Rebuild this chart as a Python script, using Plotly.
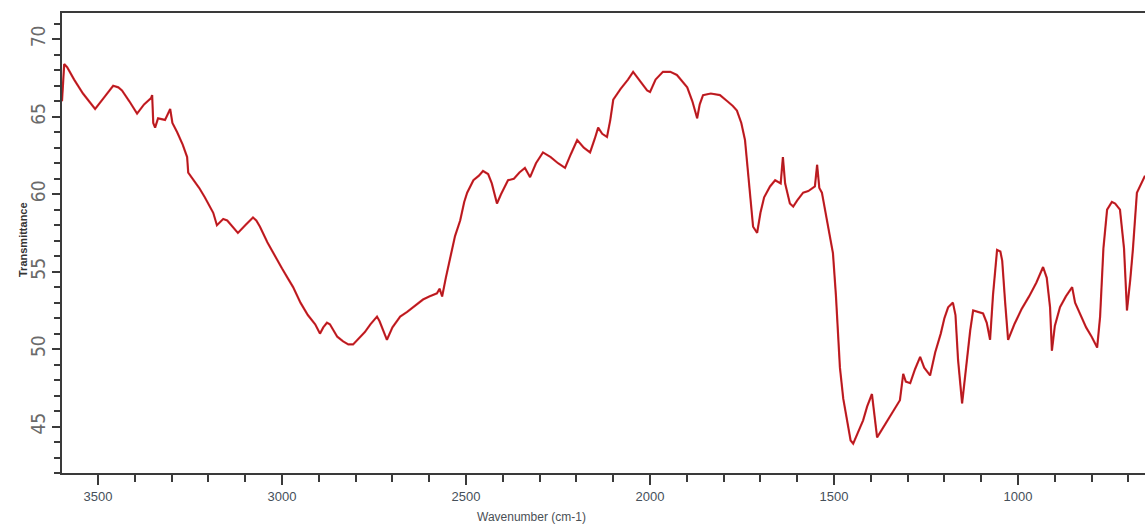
import plotly.graph_objects as go

# FT-IR spectrum: wavenumber (cm-1) vs transmittance (%)
wavenumber = [
    3598, 3592, 3584, 3565, 3541, 3520, 3508, 3485, 3459, 3445, 3435, 3415, 3394, 3375,
    3356, 3353, 3350, 3345, 3337, 3318, 3304, 3298, 3285, 3270, 3258, 3255, 3240, 3225,
    3210, 3195, 3187, 3177, 3160, 3149, 3135, 3120, 3100, 3079, 3070, 3060, 3040, 3020,
    3000, 2985, 2970, 2950, 2930, 2910, 2897, 2888, 2878, 2870, 2861, 2850, 2834, 2820,
    2807, 2790, 2775, 2760, 2742, 2735, 2728, 2720, 2715, 2700, 2679, 2660, 2640, 2617,
    2600, 2579, 2572, 2565, 2555, 2543, 2530, 2516, 2505, 2497, 2480, 2465, 2454, 2440,
    2430, 2416, 2405, 2386, 2370, 2355, 2340, 2326, 2310, 2291, 2270, 2250, 2231, 2215,
    2198, 2180, 2163, 2150, 2141, 2130, 2117, 2108, 2100, 2080, 2060, 2046, 2030, 2015,
    2008, 2000, 1985, 1965, 1945, 1927, 1912, 1899, 1885, 1872, 1865, 1856, 1835, 1810,
    1790, 1775, 1764, 1752, 1742, 1732, 1720, 1709, 1700, 1690, 1674, 1660, 1645, 1639,
    1633, 1620, 1611, 1600, 1584, 1570, 1552, 1546, 1540, 1533, 1520, 1511, 1503, 1495,
    1484, 1475, 1465, 1455, 1448, 1440, 1430, 1421, 1410, 1397, 1390, 1383, 1370, 1355,
    1340, 1321, 1312, 1305, 1293, 1280, 1266, 1255, 1239, 1225, 1210, 1200, 1190, 1177,
    1170, 1163, 1152, 1145, 1139, 1130, 1122, 1110, 1095, 1085, 1076, 1068, 1057, 1048,
    1043, 1035, 1027, 1010, 990, 970, 950, 932, 922, 913, 908, 900, 886, 870,
    853, 845, 830, 815, 800, 785, 777, 768, 758, 745, 736, 723, 712, 704,
    695, 688, 677, 665, 655,
]
transmittance = [
    66.0, 68.4, 68.2, 67.4, 66.5, 65.9, 65.5, 66.2, 67.0, 66.9, 66.7, 66.0, 65.2, 65.8,
    66.2, 66.4, 64.6, 64.3, 64.9, 64.8, 65.5, 64.6, 64.0, 63.2, 62.4, 61.4, 60.9, 60.4,
    59.8, 59.2, 58.8, 58.0, 58.4, 58.3, 57.9, 57.5, 58.0, 58.5, 58.3, 57.9, 56.9, 56.0,
    55.2, 54.6, 54.0, 53.0, 52.2, 51.6, 51.0, 51.4, 51.7, 51.6, 51.2, 50.8, 50.5, 50.3,
    50.3, 50.7, 51.1, 51.6, 52.1, 51.8, 51.4, 50.9, 50.6, 51.4, 52.1, 52.4, 52.8, 53.2,
    53.4, 53.6, 53.9, 53.4, 54.6, 55.9, 57.3, 58.3, 59.5, 60.1, 60.9, 61.2, 61.5, 61.3,
    60.7, 59.4, 60.0, 60.9, 61.0, 61.4, 61.7, 61.1, 62.0, 62.7, 62.4, 62.0, 61.7, 62.6,
    63.5, 63.0, 62.7, 63.6, 64.3, 63.9, 63.7, 64.8, 66.1, 66.8, 67.4, 67.9, 67.4, 66.9,
    66.7, 66.6, 67.4, 67.9, 67.9, 67.7, 67.3, 66.9, 66.0, 64.9, 65.8, 66.4, 66.5, 66.4,
    66.0, 65.7, 65.4, 64.6, 63.5, 61.0, 57.9, 57.5, 58.8, 59.8, 60.5, 60.9, 60.7, 62.4,
    60.7, 59.4, 59.2, 59.6, 60.1, 60.2, 60.5, 61.9, 60.4, 60.1, 58.5, 57.2, 56.2, 53.5,
    48.8, 46.8, 45.4, 44.1, 43.9, 44.4, 44.9, 45.4, 46.3, 47.1, 45.8, 44.3, 44.8, 45.4,
    46.0, 46.7, 48.4, 47.9, 47.8, 48.7, 49.5, 48.8, 48.3, 49.8, 51.0, 52.0, 52.7, 53.0,
    52.2, 49.3, 46.5, 48.0, 49.5, 51.2, 52.5, 52.4, 52.3, 51.7, 50.6, 53.5, 56.4, 56.3,
    55.7, 53.0, 50.6, 51.6, 52.6, 53.4, 54.3, 55.3, 54.6, 52.7, 49.9, 51.5, 52.7, 53.4,
    54.0, 53.0, 52.2, 51.4, 50.8, 50.1, 52.1, 56.5, 59.0, 59.5, 59.4, 59.0, 56.5, 52.5,
    54.5, 56.4, 60.1, 60.7, 61.2,
]

y_tick_values = [45, 50, 55, 60, 65, 70]
x_tick_values = [3500, 3000, 2500, 2000, 1500, 1000]

W, H = 1145, 527
M_L, M_R, M_T, M_B = 62, 0, 13, 54
plot_w = W - M_L - M_R
plot_h = H - M_T - M_B

fig = go.Figure()
# red halo with a darker core, as the spectrometer trace is printed
fig.add_trace(go.Scatter(x=wavenumber, y=transmittance, mode="lines",
                         line=dict(color="#d8262c", width=2.2),
                         hoverinfo="skip", showlegend=False))
fig.add_trace(go.Scatter(x=wavenumber, y=transmittance, mode="lines",
                         line=dict(color="#8e1518", width=0.9),
                         opacity=0.75, showlegend=False))

axis_col = "#3a3a3a"
fig.update_layout(
    width=W, height=H,
    margin=dict(l=M_L, r=M_R, t=M_T, b=M_B, autoexpand=False),
    paper_bgcolor="white", plot_bgcolor="white",
    xaxis=dict(
        range=[3598, 655], autorange=False,
        tickvals=x_tick_values, ticktext=[str(v) for v in x_tick_values],
        ticks="outside", ticklen=10, tickwidth=1.5, tickcolor=axis_col,
        minor=dict(dtick=100, tick0=0, ticks="outside", ticklen=7,
                   tickwidth=1.5, tickcolor=axis_col, showgrid=False),
        showline=True, linecolor=axis_col, linewidth=1.8, mirror=True,
        showgrid=False, zeroline=False,
        tickfont=dict(family="Liberation Sans, Arial, sans-serif", size=13, color="#45505a"),
        automargin=False,
    ),
    yaxis=dict(
        range=[42.0, 71.7], autorange=False,
        tickvals=y_tick_values, ticktext=[str(v) for v in y_tick_values],
        tickangle=-90,
        ticks="outside", ticklen=8, tickwidth=1.5, tickcolor=axis_col,
        minor=dict(dtick=1, tick0=0, ticks="outside", ticklen=6,
                   tickwidth=1.5, tickcolor=axis_col, showgrid=False),
        showline=True, linecolor=axis_col, linewidth=1.8, mirror=False,
        showgrid=False, zeroline=False,
        tickfont=dict(family="Liberation Sans Narrow, DejaVu Sans Condensed, sans-serif",
                      size=19, color="#6a6a6a"),
        automargin=False,
    ),
    annotations=[
        dict(text="Wavenumber (cm-1)", xref="paper", yref="paper",
             x=(531 - M_L) / plot_w, y=-(517 - (M_T + plot_h)) / plot_h,
             xanchor="center", yanchor="middle", showarrow=False,
             font=dict(family="Liberation Sans, Arial, sans-serif", size=12, color="#4a4f55")),
        dict(text="<b>Transmittance</b>", xref="paper", yref="paper",
             x=(23 - M_L) / plot_w, y=0.5 - (240 - (M_T + plot_h / 2)) / plot_h,
             xanchor="center", yanchor="middle", textangle=-90, showarrow=False,
             font=dict(family="Liberation Sans, Arial, sans-serif", size=11, color="#333333")),
    ],
)

fig.write_html("out.html")
